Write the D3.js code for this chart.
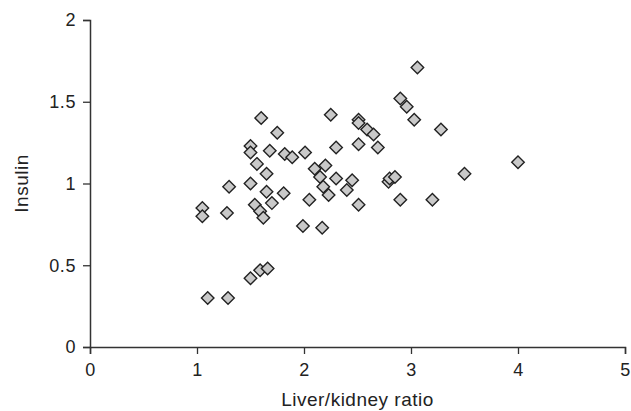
<!DOCTYPE html>
<html>
<head>
<meta charset="utf-8">
<script src="https://cdn.jsdelivr.net/npm/d3@7"></script>
<style>
  body { margin: 0; background: #fff; }
  svg text { font-family: "Liberation Sans", Arial, sans-serif; fill: #222; }
</style>
</head>
<body>
<svg id="chart" width="631" height="411"></svg>
<script>
// Liver/kidney ratio values (x) and insulin (y)
const ratio = [1.05, 1.05, 1.10, 1.28, 1.30, 1.29, 1.50, 1.50, 1.50, 1.50,
    1.54, 1.59, 1.62, 1.56, 1.60, 1.59, 1.66, 1.65, 1.65, 1.68,
    1.70, 1.75, 1.81, 1.82, 1.89, 2.01, 1.99, 2.05, 2.10, 2.15,
    2.18, 2.20, 2.17, 2.23, 2.25, 2.30, 2.30, 2.40, 2.45, 2.51,
    2.51, 2.51, 2.51, 2.59, 2.65, 2.69, 2.79, 2.80, 2.85, 2.90,
    2.96, 3.03, 2.90, 3.06, 3.20, 3.28, 3.50, 4.00];
const insulin = [0.85, 0.80, 0.30, 0.82, 0.98, 0.30, 1.23, 1.19, 1.00, 0.42,
    0.87, 0.83, 0.79, 1.12, 1.40, 0.47, 0.48, 1.06, 0.95, 1.20,
    0.88, 1.31, 0.94, 1.18, 1.16, 1.19, 0.74, 0.90, 1.09, 1.04,
    0.98, 1.11, 0.73, 0.93, 1.42, 1.22, 1.03, 0.96, 1.02, 1.39,
    1.37, 1.24, 0.87, 1.33, 1.30, 1.22, 1.01, 1.03, 1.04, 1.52,
    1.47, 1.39, 0.90, 1.71, 0.90, 1.33, 1.06, 1.13];
const xTicks = [0, 1, 2, 3, 4, 5];
const yTicks = [0, 0.5, 1, 1.5, 2];

const margin = { left: 90, right: 6, top: 20, bottom: 64 };
const width = 631, height = 411;

const svg = d3.select('#chart');

const x = d3.scaleLinear().domain([0, 5]).range([margin.left, width - margin.right]);
const y = d3.scaleLinear().domain([0, 2]).range([height - margin.bottom, margin.top]);

// axes
const xAxis = svg.append('g')
    .attr('transform', `translate(0,${y(0)})`)
    .call(d3.axisBottom(x).tickValues(xTicks).tickFormat(d3.format('')).tickSizeOuter(0).tickSize(7).tickPadding(9));
const yAxis = svg.append('g')
    .attr('transform', `translate(${x(0)},0)`)
    .call(d3.axisLeft(y).tickValues(yTicks).tickFormat(d3.format('')).tickSizeOuter(0).tickSize(7).tickPadding(7));

[xAxis, yAxis].forEach(a => {
    a.select('.domain').attr('stroke', '#333').attr('stroke-width', 1.5);
    a.selectAll('.tick line').attr('stroke', '#333').attr('stroke-width', 1.3);
    a.selectAll('.tick text').attr('font-size', 18).attr('letter-spacing', 0.6).attr('fill', '#222');
});

// points
const pts = ratio.map((r, i) => ({ x: r, y: insulin[i] }));
svg.append('g').selectAll('path')
    .data(pts)
    .enter().append('path')
    .attr('transform', d => `translate(${x(d.x)},${y(d.y)})`)
    .attr('d', d3.symbol().type(d3.symbolDiamond2).size(100))
    .attr('fill', '#c9c9c9')
    .attr('stroke', '#222')
    .attr('stroke-width', 1.4);

// axis titles
svg.append('text')
    .attr('x', (x(0) + x(5)) / 2)
    .attr('y', 406)
    .attr('text-anchor', 'middle')
    .attr('font-size', 19)
    .attr('letter-spacing', 0.5)
    .text('Liver/kidney ratio');

svg.append('text')
    .attr('transform', `translate(28,${(y(0) + y(2)) / 2}) rotate(-90)`)
    .attr('text-anchor', 'middle')
    .attr('font-size', 19)
    .attr('letter-spacing', 0.5)
    .text('Insulin');
</script>
</body>
</html>
